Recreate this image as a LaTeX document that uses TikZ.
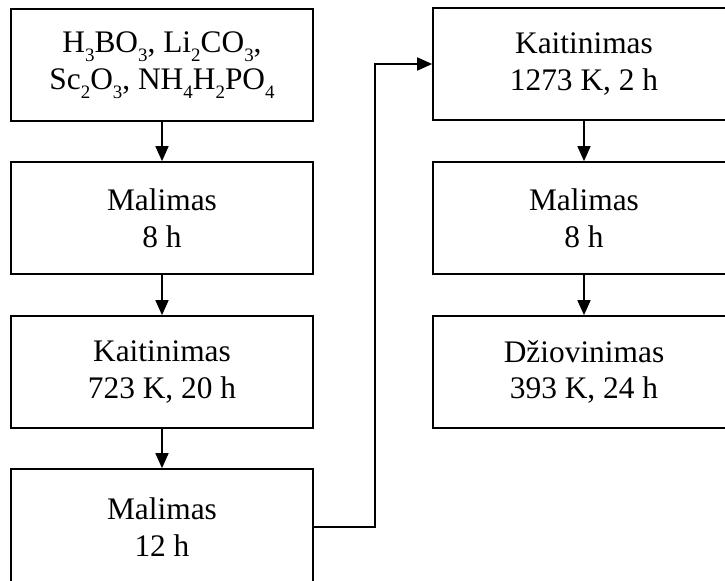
\documentclass[tikz,border=0pt]{standalone}
\usepackage{fontspec}
\setmainfont{Liberation Serif}
\usetikzlibrary{arrows.meta}
% chemical subscript in the text font
\newcommand{\chsub}[1]{\raisebox{-0.28em}{\fontsize{19}{19}\selectfont #1}}
\begin{document}
\begin{tikzpicture}[x=1bp,y=-1bp,
  stepbox/.style={draw, line width=1.7bp, rectangle, minimum width=302bp,
    minimum height=112bp, inner sep=0pt, align=center,
    font=\fontsize{31.5}{37}\selectfont},
  flow/.style={line width=1.7bp, -{Triangle[length=15bp,width=13bp]}}]
\useasboundingbox (0,0) rectangle (725,581);
\clip (0,0) rectangle (725,581);
% left column
\node[stepbox] (a1) at (162,65) {H\chsub{3}BO\chsub{3}, Li\chsub{2}CO\chsub{3},\\Sc\chsub{2}O\chsub{3}, NH\chsub{4}H\chsub{2}PO\chsub{4}};
\node[stepbox] (a2) at (162,218) {Malimas\\8 h};
\node[stepbox] (a3) at (162,372) {Kaitinimas\\723 K, 20 h};
\node[stepbox, minimum height=116bp] (a4) at (162,527) {Malimas\\12 h};
% right column
\node[stepbox] (b1) at (584,64) {Kaitinimas\\1273 K, 2 h};
\node[stepbox] (b2) at (584,218) {Malimas\\8 h};
\node[stepbox] (b3) at (584,372) {Džiovinimas\\393 K, 24 h};
% connectors
\draw[flow] (a1) -- (a2);
\draw[flow] (a2) -- (a3);
\draw[flow] (a3) -- (a4);
\draw[flow] (b1) -- (b2);
\draw[flow] (b2) -- (b3);
% return line from the last left step to the first right step
\coordinate (bend) at (375,0);
\draw[flow] (a4.east) -- (a4.east -| bend) -- (b1.west -| bend) -- (b1.west);
\end{tikzpicture}
\end{document}
